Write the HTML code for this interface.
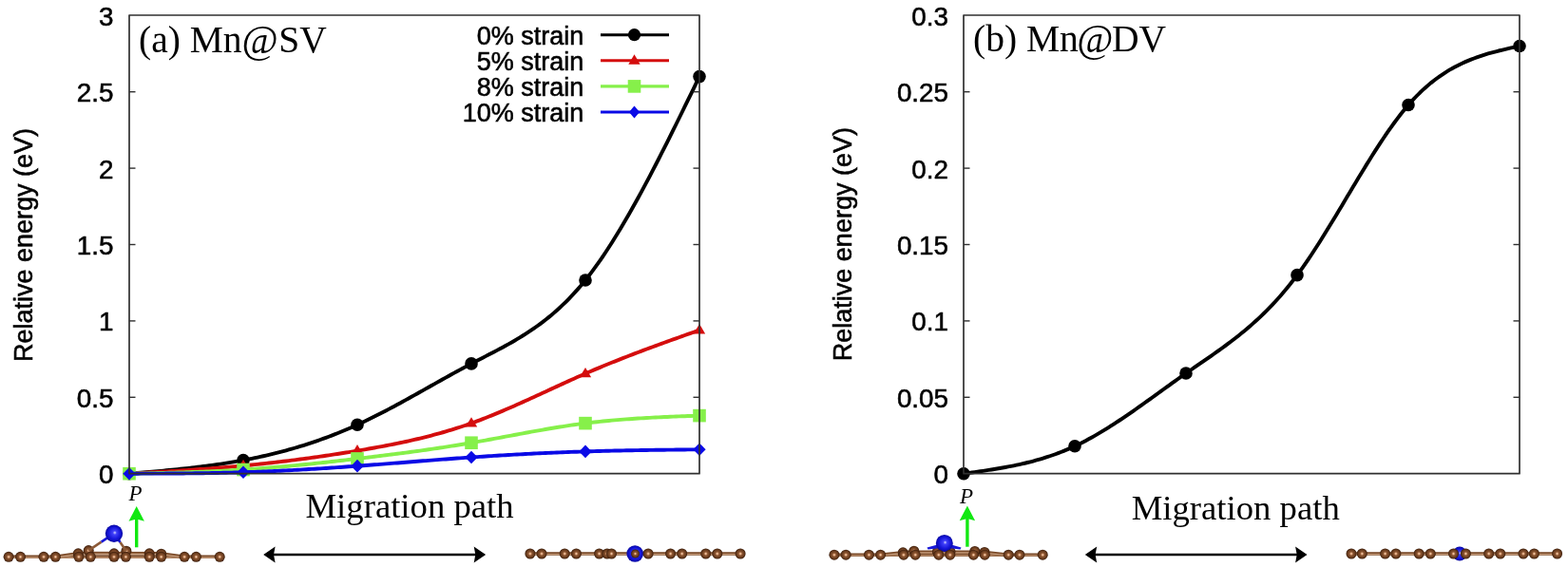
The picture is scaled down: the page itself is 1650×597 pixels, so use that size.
<!DOCTYPE html>
<html><head><meta charset="utf-8"><style>
html,body{margin:0;padding:0;background:#fff;overflow:hidden;width:1650px;height:597px;}
svg{display:block;}
</style></head><body>
<svg width="1650" height="597" viewBox="0 0 1650 597">
<rect width="1650" height="597" fill="#fff"/>
<text transform="translate(33.6,381) rotate(-90)" style="font-family:'Liberation Sans',Arial,sans-serif;stroke:#000;stroke-width:0.55px;font-size:27px">Relative energy (eV)</text>
<text transform="translate(895.6,380.2) rotate(-90)" style="font-family:'Liberation Sans',Arial,sans-serif;stroke:#000;stroke-width:0.55px;font-size:27px">Relative energy (eV)</text>
<text x="146" y="55.3" style="font-family:'Liberation Serif','Times New Roman',serif;font-size:39.5px">(a) <tspan dx="0">Mn</tspan><tspan dx="0" dy="0.8" style="font-size:41.5px">@</tspan><tspan dx="0.5" dy="-0.8">SV</tspan></text>
<text x="1024" y="54.3" style="font-family:'Liberation Serif','Times New Roman',serif;font-size:39.5px">(b) <tspan dx="0">Mn</tspan><tspan dx="-1.5" dy="0.8" style="font-size:41.5px">@</tspan><tspan dx="-1.5" dy="-0.8">DV</tspan></text>
<path d="M136.00,498.70 L139.00,498.45 L142.00,498.20 L145.00,497.95 L148.00,497.69 L151.00,497.44 L154.00,497.18 L157.00,496.92 L160.00,496.66 L163.00,496.39 L166.00,496.13 L169.00,495.85 L172.00,495.58 L175.00,495.30 L178.00,495.01 L181.00,494.72 L184.00,494.42 L187.00,494.12 L190.00,493.81 L193.00,493.49 L196.00,493.17 L199.00,492.84 L202.00,492.50 L205.00,492.15 L208.00,491.79 L211.00,491.42 L214.00,491.05 L217.00,490.66 L220.00,490.26 L223.00,489.86 L226.00,489.44 L229.00,489.01 L232.00,488.56 L235.00,488.11 L238.00,487.64 L241.00,487.16 L244.00,486.67 L247.00,486.16 L250.00,485.64 L253.00,485.10 L256.00,484.55 L259.00,483.98 L262.00,483.40 L265.00,482.80 L268.00,482.19 L271.00,481.55 L274.00,480.91 L277.00,480.24 L280.00,479.56 L283.00,478.86 L286.00,478.14 L289.00,477.41 L292.00,476.66 L295.00,475.88 L298.00,475.10 L301.00,474.29 L304.00,473.46 L307.00,472.61 L310.00,471.75 L313.00,470.86 L316.00,469.95 L319.00,469.03 L322.00,468.08 L325.00,467.11 L328.00,466.12 L331.00,465.11 L334.00,464.08 L337.00,463.03 L340.00,461.95 L343.00,460.85 L346.00,459.73 L349.00,458.59 L352.00,457.43 L355.00,456.24 L358.00,455.02 L361.00,453.79 L364.00,452.53 L367.00,451.24 L370.00,449.94 L373.00,448.60 L376.00,447.24 L379.00,445.86 L382.00,444.45 L385.00,443.02 L388.00,441.57 L391.00,440.10 L394.00,438.60 L397.00,437.09 L400.00,435.56 L403.00,434.01 L406.00,432.45 L409.00,430.87 L412.00,429.27 L415.00,427.67 L418.00,426.05 L421.00,424.42 L424.00,422.78 L427.00,421.13 L430.00,419.47 L433.00,417.80 L436.00,416.13 L439.00,414.45 L442.00,412.77 L445.00,411.09 L448.00,409.40 L451.00,407.71 L454.00,406.03 L457.00,404.34 L460.00,402.65 L463.00,400.97 L466.00,399.29 L469.00,397.62 L472.00,395.95 L475.00,394.29 L478.00,392.63 L481.00,390.99 L484.00,389.35 L487.00,387.73 L490.00,386.11 L493.00,384.51 L496.00,382.92 L499.00,381.35 L502.00,379.79 L505.00,378.23 L508.00,376.68 L511.00,375.14 L514.00,373.58 L517.00,372.03 L520.00,370.46 L523.00,368.88 L526.00,367.29 L529.00,365.67 L532.00,364.03 L535.00,362.37 L538.00,360.68 L541.00,358.95 L544.00,357.18 L547.00,355.38 L550.00,353.53 L553.00,351.64 L556.00,349.69 L559.00,347.70 L562.00,345.64 L565.00,343.52 L568.00,341.34 L571.00,339.10 L574.00,336.78 L577.00,334.39 L580.00,331.92 L583.00,329.36 L586.00,326.73 L589.00,324.00 L592.00,321.19 L595.00,318.28 L598.00,315.27 L601.00,312.16 L604.00,308.95 L607.00,305.62 L610.00,302.19 L613.00,298.64 L616.00,294.97 L619.08,291.08 L622.15,287.06 L625.23,282.93 L628.31,278.67 L631.38,274.30 L634.46,269.82 L637.54,265.23 L640.62,260.53 L643.69,255.73 L646.77,250.83 L649.85,245.84 L652.92,240.76 L656.00,235.58 L659.08,230.32 L662.15,224.98 L665.23,219.56 L668.31,214.06 L671.38,208.49 L674.46,202.85 L677.54,197.15 L680.62,191.38 L683.69,185.55 L686.77,179.67 L689.85,173.74 L692.92,167.75 L696.00,161.72 L699.08,155.65 L702.15,149.53 L705.23,143.38 L708.31,137.20 L711.38,130.99 L714.46,124.75 L717.54,118.49 L720.62,112.21 L723.69,105.91 L726.77,99.60 L729.85,93.28 L732.92,86.95 L736.00,80.62" fill="none" stroke="#000000" stroke-width="3.9" stroke-linejoin="round"/>
<circle cx="136.00" cy="498.70" r="6.8" fill="#000"/>
<circle cx="256.00" cy="484.55" r="6.8" fill="#000"/>
<circle cx="376.00" cy="447.24" r="6.8" fill="#000"/>
<circle cx="496.00" cy="382.92" r="6.8" fill="#000"/>
<circle cx="616.00" cy="294.97" r="6.8" fill="#000"/>
<circle cx="736.00" cy="80.62" r="6.8" fill="#000"/>
<path d="M136.00,498.70 L139.00,498.53 L142.00,498.36 L145.00,498.19 L148.00,498.01 L151.00,497.84 L154.00,497.67 L157.00,497.49 L160.00,497.32 L163.00,497.14 L166.00,496.96 L169.00,496.79 L172.00,496.60 L175.00,496.42 L178.00,496.24 L181.00,496.05 L184.00,495.86 L187.00,495.67 L190.00,495.48 L193.00,495.28 L196.00,495.09 L199.00,494.89 L202.00,494.68 L205.00,494.47 L208.00,494.26 L211.00,494.05 L214.00,493.83 L217.00,493.61 L220.00,493.39 L223.00,493.16 L226.00,492.93 L229.00,492.69 L232.00,492.45 L235.00,492.20 L238.00,491.95 L241.00,491.69 L244.00,491.43 L247.00,491.17 L250.00,490.90 L253.00,490.62 L256.00,490.34 L259.00,490.05 L262.00,489.76 L265.00,489.46 L268.00,489.15 L271.00,488.84 L274.00,488.53 L277.00,488.21 L280.00,487.88 L283.00,487.55 L286.00,487.21 L289.00,486.87 L292.00,486.52 L295.00,486.16 L298.00,485.80 L301.00,485.44 L304.00,485.07 L307.00,484.69 L310.00,484.31 L313.00,483.92 L316.00,483.53 L319.00,483.13 L322.00,482.73 L325.00,482.32 L328.00,481.91 L331.00,481.49 L334.00,481.07 L337.00,480.64 L340.00,480.20 L343.00,479.76 L346.00,479.32 L349.00,478.87 L352.00,478.41 L355.00,477.95 L358.00,477.48 L361.00,477.01 L364.00,476.54 L367.00,476.05 L370.00,475.57 L373.00,475.08 L376.00,474.58 L379.00,474.08 L382.00,473.57 L385.00,473.06 L388.00,472.54 L391.00,472.01 L394.00,471.48 L397.00,470.94 L400.00,470.39 L403.00,469.83 L406.00,469.26 L409.00,468.68 L412.00,468.09 L415.00,467.50 L418.00,466.89 L421.00,466.26 L424.00,465.63 L427.00,464.99 L430.00,464.33 L433.00,463.66 L436.00,462.97 L439.00,462.27 L442.00,461.56 L445.00,460.83 L448.00,460.08 L451.00,459.32 L454.00,458.54 L457.00,457.74 L460.00,456.93 L463.00,456.10 L466.00,455.25 L469.00,454.38 L472.00,453.49 L475.00,452.59 L478.00,451.66 L481.00,450.71 L484.00,449.74 L487.00,448.75 L490.00,447.73 L493.00,446.70 L496.00,445.64 L499.00,444.55 L502.00,443.45 L505.00,442.32 L508.00,441.17 L511.00,440.00 L514.00,438.81 L517.00,437.61 L520.00,436.38 L523.00,435.14 L526.00,433.89 L529.00,432.62 L532.00,431.33 L535.00,430.04 L538.00,428.73 L541.00,427.41 L544.00,426.08 L547.00,424.74 L550.00,423.39 L553.00,422.03 L556.00,420.67 L559.00,419.30 L562.00,417.93 L565.00,416.55 L568.00,415.17 L571.00,413.79 L574.00,412.40 L577.00,411.02 L580.00,409.64 L583.00,408.25 L586.00,406.87 L589.00,405.49 L592.00,404.12 L595.00,402.75 L598.00,401.39 L601.00,400.03 L604.00,398.68 L607.00,397.34 L610.00,396.01 L613.00,394.69 L616.00,393.38 L619.08,392.04 L622.15,390.72 L625.23,389.42 L628.31,388.12 L631.38,386.84 L634.46,385.56 L637.54,384.30 L640.62,383.04 L643.69,381.80 L646.77,380.57 L649.85,379.34 L652.92,378.13 L656.00,376.92 L659.08,375.72 L662.15,374.53 L665.23,373.35 L668.31,372.18 L671.38,371.01 L674.46,369.85 L677.54,368.69 L680.62,367.54 L683.69,366.40 L686.77,365.26 L689.85,364.13 L692.92,363.00 L696.00,361.88 L699.08,360.76 L702.15,359.65 L705.23,358.54 L708.31,357.43 L711.38,356.32 L714.46,355.22 L717.54,354.12 L720.62,353.02 L723.69,351.93 L726.77,350.83 L729.85,349.74 L732.92,348.64 L736.00,347.55" fill="none" stroke="#d40d0d" stroke-width="3.9" stroke-linejoin="round"/>
<path d="M136.00,492.20 L142.18,502.60 L129.82,502.60Z" fill="#d40d0d"/>
<path d="M256.00,483.84 L262.18,494.24 L249.82,494.24Z" fill="#d40d0d"/>
<path d="M376.00,468.08 L382.18,478.48 L369.82,478.48Z" fill="#d40d0d"/>
<path d="M496.00,439.14 L502.18,449.54 L489.82,449.54Z" fill="#d40d0d"/>
<path d="M616.00,386.88 L622.17,397.28 L609.83,397.28Z" fill="#d40d0d"/>
<path d="M736.00,341.05 L742.17,351.45 L729.83,351.45Z" fill="#d40d0d"/>
<path d="M136.00,498.70 L139.00,498.64 L142.00,498.58 L145.00,498.52 L148.00,498.45 L151.00,498.39 L154.00,498.33 L157.00,498.26 L160.00,498.20 L163.00,498.13 L166.00,498.06 L169.00,497.99 L172.00,497.92 L175.00,497.85 L178.00,497.77 L181.00,497.70 L184.00,497.61 L187.00,497.53 L190.00,497.45 L193.00,497.36 L196.00,497.26 L199.00,497.17 L202.00,497.07 L205.00,496.97 L208.00,496.86 L211.00,496.75 L214.00,496.64 L217.00,496.52 L220.00,496.40 L223.00,496.27 L226.00,496.14 L229.00,496.00 L232.00,495.86 L235.00,495.71 L238.00,495.56 L241.00,495.40 L244.00,495.24 L247.00,495.07 L250.00,494.89 L253.00,494.71 L256.00,494.52 L259.00,494.32 L262.00,494.12 L265.00,493.91 L268.00,493.70 L271.00,493.48 L274.00,493.25 L277.00,493.02 L280.00,492.79 L283.00,492.54 L286.00,492.29 L289.00,492.04 L292.00,491.78 L295.00,491.52 L298.00,491.25 L301.00,490.98 L304.00,490.70 L307.00,490.41 L310.00,490.13 L313.00,489.84 L316.00,489.54 L319.00,489.24 L322.00,488.94 L325.00,488.63 L328.00,488.32 L331.00,488.00 L334.00,487.68 L337.00,487.36 L340.00,487.04 L343.00,486.71 L346.00,486.38 L349.00,486.05 L352.00,485.71 L355.00,485.37 L358.00,485.03 L361.00,484.69 L364.00,484.34 L367.00,484.00 L370.00,483.65 L373.00,483.29 L376.00,482.94 L379.00,482.59 L382.00,482.23 L385.00,481.87 L388.00,481.51 L391.00,481.15 L394.00,480.79 L397.00,480.42 L400.00,480.05 L403.00,479.68 L406.00,479.31 L409.00,478.93 L412.00,478.55 L415.00,478.17 L418.00,477.78 L421.00,477.39 L424.00,477.00 L427.00,476.60 L430.00,476.20 L433.00,475.80 L436.00,475.39 L439.00,474.98 L442.00,474.56 L445.00,474.14 L448.00,473.72 L451.00,473.29 L454.00,472.86 L457.00,472.42 L460.00,471.97 L463.00,471.53 L466.00,471.07 L469.00,470.61 L472.00,470.15 L475.00,469.68 L478.00,469.20 L481.00,468.72 L484.00,468.23 L487.00,467.74 L490.00,467.24 L493.00,466.73 L496.00,466.22 L499.00,465.70 L502.00,465.17 L505.00,464.64 L508.00,464.11 L511.00,463.57 L514.00,463.02 L517.00,462.47 L520.00,461.92 L523.00,461.37 L526.00,460.81 L529.00,460.25 L532.00,459.69 L535.00,459.14 L538.00,458.58 L541.00,458.02 L544.00,457.46 L547.00,456.90 L550.00,456.35 L553.00,455.79 L556.00,455.25 L559.00,454.70 L562.00,454.16 L565.00,453.62 L568.00,453.09 L571.00,452.56 L574.00,452.04 L577.00,451.52 L580.00,451.01 L583.00,450.51 L586.00,450.02 L589.00,449.54 L592.00,449.06 L595.00,448.59 L598.00,448.14 L601.00,447.69 L604.00,447.26 L607.00,446.83 L610.00,446.42 L613.00,446.02 L616.00,445.64 L619.08,445.25 L622.15,444.88 L625.23,444.53 L628.31,444.19 L631.38,443.86 L634.46,443.54 L637.54,443.23 L640.62,442.94 L643.69,442.66 L646.77,442.39 L649.85,442.12 L652.92,441.87 L656.00,441.63 L659.08,441.40 L662.15,441.18 L665.23,440.96 L668.31,440.76 L671.38,440.56 L674.46,440.37 L677.54,440.18 L680.62,440.01 L683.69,439.84 L686.77,439.67 L689.85,439.52 L692.92,439.36 L696.00,439.22 L699.08,439.07 L702.15,438.94 L705.23,438.80 L708.31,438.67 L711.38,438.54 L714.46,438.42 L717.54,438.30 L720.62,438.18 L723.69,438.06 L726.77,437.94 L729.85,437.83 L732.92,437.71 L736.00,437.60" fill="none" stroke="#86f04a" stroke-width="3.9" stroke-linejoin="round"/>
<rect x="129.20" y="491.90" width="13.6" height="13.6" fill="#86f04a"/>
<rect x="249.20" y="487.72" width="13.6" height="13.6" fill="#86f04a"/>
<rect x="369.20" y="476.14" width="13.6" height="13.6" fill="#86f04a"/>
<rect x="489.20" y="459.42" width="13.6" height="13.6" fill="#86f04a"/>
<rect x="609.20" y="438.84" width="13.6" height="13.6" fill="#86f04a"/>
<rect x="729.20" y="430.80" width="13.6" height="13.6" fill="#86f04a"/>
<path d="M136.00,498.70 L139.00,498.69 L142.00,498.69 L145.00,498.68 L148.00,498.67 L151.00,498.66 L154.00,498.65 L157.00,498.64 L160.00,498.63 L163.00,498.62 L166.00,498.61 L169.00,498.60 L172.00,498.58 L175.00,498.57 L178.00,498.55 L181.00,498.53 L184.00,498.51 L187.00,498.49 L190.00,498.46 L193.00,498.44 L196.00,498.41 L199.00,498.38 L202.00,498.35 L205.00,498.31 L208.00,498.28 L211.00,498.24 L214.00,498.19 L217.00,498.15 L220.00,498.10 L223.00,498.05 L226.00,497.99 L229.00,497.94 L232.00,497.87 L235.00,497.81 L238.00,497.74 L241.00,497.67 L244.00,497.59 L247.00,497.52 L250.00,497.43 L253.00,497.34 L256.00,497.25 L259.00,497.16 L262.00,497.06 L265.00,496.95 L268.00,496.84 L271.00,496.73 L274.00,496.61 L277.00,496.49 L280.00,496.37 L283.00,496.24 L286.00,496.11 L289.00,495.97 L292.00,495.83 L295.00,495.69 L298.00,495.54 L301.00,495.39 L304.00,495.24 L307.00,495.08 L310.00,494.92 L313.00,494.75 L316.00,494.59 L319.00,494.42 L322.00,494.24 L325.00,494.07 L328.00,493.89 L331.00,493.70 L334.00,493.52 L337.00,493.33 L340.00,493.14 L343.00,492.95 L346.00,492.75 L349.00,492.55 L352.00,492.35 L355.00,492.15 L358.00,491.94 L361.00,491.73 L364.00,491.52 L367.00,491.31 L370.00,491.10 L373.00,490.88 L376.00,490.66 L379.00,490.44 L382.00,490.22 L385.00,489.99 L388.00,489.77 L391.00,489.54 L394.00,489.31 L397.00,489.08 L400.00,488.85 L403.00,488.61 L406.00,488.38 L409.00,488.15 L412.00,487.91 L415.00,487.67 L418.00,487.44 L421.00,487.20 L424.00,486.96 L427.00,486.73 L430.00,486.49 L433.00,486.25 L436.00,486.02 L439.00,485.78 L442.00,485.54 L445.00,485.31 L448.00,485.07 L451.00,484.84 L454.00,484.61 L457.00,484.37 L460.00,484.14 L463.00,483.91 L466.00,483.68 L469.00,483.46 L472.00,483.23 L475.00,483.01 L478.00,482.78 L481.00,482.56 L484.00,482.35 L487.00,482.13 L490.00,481.92 L493.00,481.70 L496.00,481.49 L499.00,481.29 L502.00,481.08 L505.00,480.88 L508.00,480.68 L511.00,480.49 L514.00,480.29 L517.00,480.10 L520.00,479.91 L523.00,479.73 L526.00,479.55 L529.00,479.37 L532.00,479.19 L535.00,479.01 L538.00,478.84 L541.00,478.67 L544.00,478.51 L547.00,478.34 L550.00,478.18 L553.00,478.02 L556.00,477.87 L559.00,477.72 L562.00,477.57 L565.00,477.42 L568.00,477.28 L571.00,477.14 L574.00,477.00 L577.00,476.86 L580.00,476.73 L583.00,476.60 L586.00,476.48 L589.00,476.35 L592.00,476.23 L595.00,476.12 L598.00,476.00 L601.00,475.89 L604.00,475.78 L607.00,475.68 L610.00,475.58 L613.00,475.48 L616.00,475.38 L619.08,475.29 L622.15,475.20 L625.23,475.11 L628.31,475.02 L631.38,474.94 L634.46,474.86 L637.54,474.79 L640.62,474.71 L643.69,474.64 L646.77,474.57 L649.85,474.50 L652.92,474.44 L656.00,474.38 L659.08,474.32 L662.15,474.26 L665.23,474.21 L668.31,474.15 L671.38,474.10 L674.46,474.05 L677.54,474.00 L680.62,473.96 L683.69,473.91 L686.77,473.87 L689.85,473.82 L692.92,473.78 L696.00,473.74 L699.08,473.70 L702.15,473.67 L705.23,473.63 L708.31,473.59 L711.38,473.56 L714.46,473.52 L717.54,473.49 L720.62,473.46 L723.69,473.42 L726.77,473.39 L729.85,473.36 L732.92,473.33 L736.00,473.29" fill="none" stroke="#0a0ae6" stroke-width="3.9" stroke-linejoin="round"/>
<path d="M136.00,491.90 L142.60,498.70 L136.00,505.50 L129.40,498.70Z" fill="#0a0ae6"/>
<path d="M256.00,490.45 L262.60,497.25 L256.00,504.05 L249.40,497.25Z" fill="#0a0ae6"/>
<path d="M376.00,483.86 L382.60,490.66 L376.00,497.46 L369.40,490.66Z" fill="#0a0ae6"/>
<path d="M496.00,474.69 L502.60,481.49 L496.00,488.29 L489.40,481.49Z" fill="#0a0ae6"/>
<path d="M616.00,468.58 L622.60,475.38 L616.00,482.18 L609.40,475.38Z" fill="#0a0ae6"/>
<path d="M736.00,466.49 L742.60,473.29 L736.00,480.09 L729.40,473.29Z" fill="#0a0ae6"/>
<text x="614.3" y="46.90" text-anchor="end" style="font-family:'Liberation Sans',Arial,sans-serif;stroke:#000;stroke-width:0.55px;font-size:27px">0% strain</text>
<line x1="632" y1="36.70" x2="704" y2="36.70" stroke="#000000" stroke-width="3.1"/>
<circle cx="667.50" cy="36.70" r="6.6" fill="#000000"/>
<text x="614.3" y="74.00" text-anchor="end" style="font-family:'Liberation Sans',Arial,sans-serif;stroke:#000;stroke-width:0.55px;font-size:27px">5% strain</text>
<line x1="632" y1="63.80" x2="704" y2="63.80" stroke="#d40d0d" stroke-width="3.1"/>
<path d="M667.50,57.30 L673.67,67.70 L661.33,67.70Z" fill="#d40d0d"/>
<text x="614.3" y="101.10" text-anchor="end" style="font-family:'Liberation Sans',Arial,sans-serif;stroke:#000;stroke-width:0.55px;font-size:27px">8% strain</text>
<line x1="632" y1="90.90" x2="704" y2="90.90" stroke="#86f04a" stroke-width="3.1"/>
<rect x="660.70" y="84.10" width="13.6" height="13.6" fill="#86f04a"/>
<text x="614.3" y="128.20" text-anchor="end" style="font-family:'Liberation Sans',Arial,sans-serif;stroke:#000;stroke-width:0.55px;font-size:27px">10% strain</text>
<line x1="632" y1="118.00" x2="704" y2="118.00" stroke="#0a0ae6" stroke-width="3.1"/>
<path d="M667.50,111.40 L673.10,118.00 L667.50,124.60 L661.90,118.00Z" fill="#0a0ae6"/>
<path d="M1014.00,498.70 L1016.92,498.30 L1019.85,497.90 L1022.77,497.49 L1025.70,497.08 L1028.62,496.67 L1031.55,496.25 L1034.47,495.82 L1037.40,495.39 L1040.33,494.94 L1043.25,494.49 L1046.17,494.02 L1049.10,493.54 L1052.03,493.04 L1054.95,492.53 L1057.88,492.00 L1060.80,491.45 L1063.72,490.89 L1066.65,490.30 L1069.58,489.69 L1072.50,489.06 L1075.42,488.41 L1078.35,487.73 L1081.28,487.02 L1084.20,486.28 L1087.12,485.52 L1090.05,484.73 L1092.97,483.90 L1095.90,483.04 L1098.83,482.15 L1101.75,481.22 L1104.67,480.26 L1107.60,479.26 L1110.53,478.22 L1113.45,477.14 L1116.38,476.02 L1119.30,474.85 L1122.22,473.65 L1125.15,472.40 L1128.08,471.10 L1131.00,469.76 L1133.92,468.36 L1136.85,466.93 L1139.78,465.44 L1142.70,463.91 L1145.62,462.34 L1148.55,460.73 L1151.47,459.08 L1154.40,457.40 L1157.33,455.68 L1160.25,453.92 L1163.17,452.13 L1166.10,450.31 L1169.03,448.46 L1171.95,446.58 L1174.88,444.68 L1177.80,442.75 L1180.72,440.79 L1183.65,438.82 L1186.58,436.83 L1189.50,434.81 L1192.42,432.78 L1195.35,430.74 L1198.28,428.68 L1201.20,426.61 L1204.12,424.52 L1207.05,422.43 L1209.97,420.33 L1212.90,418.23 L1215.83,416.12 L1218.75,414.00 L1221.67,411.89 L1224.60,409.77 L1227.53,407.66 L1230.45,405.55 L1233.38,403.45 L1236.30,401.35 L1239.22,399.26 L1242.15,397.18 L1245.08,395.11 L1248.00,393.05 L1250.92,391.01 L1253.85,388.98 L1256.78,386.96 L1259.70,384.94 L1262.62,382.92 L1265.55,380.90 L1268.47,378.88 L1271.40,376.85 L1274.33,374.81 L1277.25,372.76 L1280.17,370.69 L1283.10,368.60 L1286.03,366.49 L1288.95,364.35 L1291.88,362.18 L1294.80,359.99 L1297.72,357.75 L1300.65,355.48 L1303.58,353.17 L1306.50,350.81 L1309.42,348.41 L1312.35,345.95 L1315.28,343.45 L1318.20,340.88 L1321.12,338.26 L1324.05,335.57 L1326.97,332.82 L1329.90,330.00 L1332.83,327.11 L1335.75,324.14 L1338.67,321.09 L1341.60,317.96 L1344.53,314.75 L1347.45,311.46 L1350.38,308.07 L1353.30,304.58 L1356.22,301.01 L1359.15,297.33 L1362.08,293.55 L1365.00,289.66 L1367.92,285.67 L1370.85,281.57 L1373.78,277.38 L1376.70,273.09 L1379.62,268.73 L1382.55,264.28 L1385.47,259.76 L1388.40,255.18 L1391.33,250.54 L1394.25,245.84 L1397.17,241.09 L1400.10,236.31 L1403.03,231.49 L1405.95,226.64 L1408.88,221.77 L1411.80,216.88 L1414.72,211.98 L1417.65,207.08 L1420.58,202.17 L1423.50,197.28 L1426.42,192.40 L1429.35,187.54 L1432.28,182.71 L1435.20,177.91 L1438.12,173.14 L1441.05,168.43 L1443.97,163.76 L1446.90,159.15 L1449.83,154.61 L1452.75,150.13 L1455.67,145.73 L1458.60,141.41 L1461.53,137.18 L1464.45,133.04 L1467.38,129.00 L1470.30,125.07 L1473.22,121.25 L1476.15,117.55 L1479.08,113.97 L1482.00,110.53 L1485.00,107.14 L1488.00,103.88 L1491.00,100.77 L1494.00,97.78 L1497.00,94.93 L1500.00,92.20 L1503.00,89.60 L1506.00,87.11 L1509.00,84.74 L1512.00,82.47 L1515.00,80.32 L1518.00,78.27 L1521.00,76.31 L1524.00,74.46 L1527.00,72.69 L1530.00,71.02 L1533.00,69.43 L1536.00,67.92 L1539.00,66.49 L1542.00,65.13 L1545.00,63.84 L1548.00,62.62 L1551.00,61.46 L1554.00,60.36 L1557.00,59.32 L1560.00,58.33 L1563.00,57.39 L1566.00,56.49 L1569.00,55.63 L1572.00,54.80 L1575.00,54.02 L1578.00,53.26 L1581.00,52.52 L1584.00,51.81 L1587.00,51.12 L1590.00,50.44 L1593.00,49.78 L1596.00,49.12 L1599.00,48.46" fill="none" stroke="#000000" stroke-width="3.9" stroke-linejoin="round"/>
<circle cx="1014.00" cy="498.70" r="6.8" fill="#000"/>
<circle cx="1131.00" cy="469.76" r="6.8" fill="#000"/>
<circle cx="1248.00" cy="393.05" r="6.8" fill="#000"/>
<circle cx="1365.00" cy="289.66" r="6.8" fill="#000"/>
<circle cx="1482.00" cy="110.53" r="6.8" fill="#000"/>
<circle cx="1599.00" cy="48.46" r="6.8" fill="#000"/>
<rect x="136.0" y="16.0" width="600.0" height="482.7" fill="none" stroke="#303030" stroke-width="1.7" stroke-linejoin="round"/>
<text x="119.5" y="509.10" text-anchor="end" style="font-family:'Liberation Sans',Arial,sans-serif;stroke:#000;stroke-width:0.55px;font-size:27.8px">0</text>
<line x1="136.0" y1="418.30" x2="142.5" y2="418.30" stroke="#303030" stroke-width="1.4"/>
<line x1="736.0" y1="418.30" x2="729.5" y2="418.30" stroke="#303030" stroke-width="1.4"/>
<text x="119.5" y="428.70" text-anchor="end" style="font-family:'Liberation Sans',Arial,sans-serif;stroke:#000;stroke-width:0.55px;font-size:27.8px">0.5</text>
<line x1="136.0" y1="337.90" x2="142.5" y2="337.90" stroke="#303030" stroke-width="1.4"/>
<line x1="736.0" y1="337.90" x2="729.5" y2="337.90" stroke="#303030" stroke-width="1.4"/>
<text x="119.5" y="348.30" text-anchor="end" style="font-family:'Liberation Sans',Arial,sans-serif;stroke:#000;stroke-width:0.55px;font-size:27.8px">1</text>
<line x1="136.0" y1="257.50" x2="142.5" y2="257.50" stroke="#303030" stroke-width="1.4"/>
<line x1="736.0" y1="257.50" x2="729.5" y2="257.50" stroke="#303030" stroke-width="1.4"/>
<text x="119.5" y="267.90" text-anchor="end" style="font-family:'Liberation Sans',Arial,sans-serif;stroke:#000;stroke-width:0.55px;font-size:27.8px">1.5</text>
<line x1="136.0" y1="177.10" x2="142.5" y2="177.10" stroke="#303030" stroke-width="1.4"/>
<line x1="736.0" y1="177.10" x2="729.5" y2="177.10" stroke="#303030" stroke-width="1.4"/>
<text x="119.5" y="187.50" text-anchor="end" style="font-family:'Liberation Sans',Arial,sans-serif;stroke:#000;stroke-width:0.55px;font-size:27.8px">2</text>
<line x1="136.0" y1="96.70" x2="142.5" y2="96.70" stroke="#303030" stroke-width="1.4"/>
<line x1="736.0" y1="96.70" x2="729.5" y2="96.70" stroke="#303030" stroke-width="1.4"/>
<text x="119.5" y="107.10" text-anchor="end" style="font-family:'Liberation Sans',Arial,sans-serif;stroke:#000;stroke-width:0.55px;font-size:27.8px">2.5</text>
<text x="119.5" y="26.70" text-anchor="end" style="font-family:'Liberation Sans',Arial,sans-serif;stroke:#000;stroke-width:0.55px;font-size:27.8px">3</text>
<rect x="1014.0" y="16.0" width="585.0" height="482.7" fill="none" stroke="#303030" stroke-width="1.7" stroke-linejoin="round"/>
<text x="998" y="509.10" text-anchor="end" style="font-family:'Liberation Sans',Arial,sans-serif;stroke:#000;stroke-width:0.55px;font-size:27.8px">0</text>
<line x1="1014.0" y1="418.30" x2="1020.5" y2="418.30" stroke="#303030" stroke-width="1.4"/>
<line x1="1599.0" y1="418.30" x2="1592.5" y2="418.30" stroke="#303030" stroke-width="1.4"/>
<text x="998" y="428.70" text-anchor="end" style="font-family:'Liberation Sans',Arial,sans-serif;stroke:#000;stroke-width:0.55px;font-size:27.8px">0.05</text>
<line x1="1014.0" y1="337.90" x2="1020.5" y2="337.90" stroke="#303030" stroke-width="1.4"/>
<line x1="1599.0" y1="337.90" x2="1592.5" y2="337.90" stroke="#303030" stroke-width="1.4"/>
<text x="998" y="348.30" text-anchor="end" style="font-family:'Liberation Sans',Arial,sans-serif;stroke:#000;stroke-width:0.55px;font-size:27.8px">0.1</text>
<line x1="1014.0" y1="257.50" x2="1020.5" y2="257.50" stroke="#303030" stroke-width="1.4"/>
<line x1="1599.0" y1="257.50" x2="1592.5" y2="257.50" stroke="#303030" stroke-width="1.4"/>
<text x="998" y="267.90" text-anchor="end" style="font-family:'Liberation Sans',Arial,sans-serif;stroke:#000;stroke-width:0.55px;font-size:27.8px">0.15</text>
<line x1="1014.0" y1="177.10" x2="1020.5" y2="177.10" stroke="#303030" stroke-width="1.4"/>
<line x1="1599.0" y1="177.10" x2="1592.5" y2="177.10" stroke="#303030" stroke-width="1.4"/>
<text x="998" y="187.50" text-anchor="end" style="font-family:'Liberation Sans',Arial,sans-serif;stroke:#000;stroke-width:0.55px;font-size:27.8px">0.2</text>
<line x1="1014.0" y1="96.70" x2="1020.5" y2="96.70" stroke="#303030" stroke-width="1.4"/>
<line x1="1599.0" y1="96.70" x2="1592.5" y2="96.70" stroke="#303030" stroke-width="1.4"/>
<text x="998" y="107.10" text-anchor="end" style="font-family:'Liberation Sans',Arial,sans-serif;stroke:#000;stroke-width:0.55px;font-size:27.8px">0.25</text>
<text x="998" y="26.70" text-anchor="end" style="font-family:'Liberation Sans',Arial,sans-serif;stroke:#000;stroke-width:0.55px;font-size:27.8px">0.3</text>
<text x="321.5" y="544.8" style="font-family:'Liberation Serif','Times New Roman',serif;font-size:36.7px">Migration path</text>
<text x="1190.7" y="546.5" style="font-family:'Liberation Serif','Times New Roman',serif;font-size:36.7px">Migration path</text>
<defs><radialGradient id="cg" cx="0.5" cy="0.5" r="0.5" fx="0.5" fy="0.5"><stop offset="0" stop-color="#ffeedd"/><stop offset="0.14" stop-color="#e0a880"/><stop offset="0.36" stop-color="#8c5632"/><stop offset="0.72" stop-color="#6a3c1e"/><stop offset="1" stop-color="#3a1c0a"/></radialGradient><radialGradient id="mg" cx="0.5" cy="0.5" r="0.5" fx="0.55" fy="0.45"><stop offset="0" stop-color="#d8d8ff"/><stop offset="0.22" stop-color="#4040f8"/><stop offset="0.7" stop-color="#1414d8"/><stop offset="1" stop-color="#0a0aa0"/></radialGradient></defs>
<line x1="9.1" y1="586.3" x2="231.2" y2="586.3" stroke="#7a4a28" stroke-width="3.5" stroke-linecap="round"/>
<line x1="9.1" y1="587.0" x2="231.2" y2="587.0" stroke="#c49a78" stroke-width="1.3"/>
<line x1="58.4" y1="586.3" x2="82.3" y2="582.8" stroke="#7a4a28" stroke-width="3.5" stroke-linecap="round"/>
<line x1="58.4" y1="587.0" x2="82.3" y2="583.5" stroke="#c49a78" stroke-width="1.3"/>
<line x1="82.3" y1="582.5" x2="169.7" y2="582.8" stroke="#7a4a28" stroke-width="3.5" stroke-linecap="round"/>
<line x1="82.3" y1="583.2" x2="169.7" y2="583.5" stroke="#c49a78" stroke-width="1.3"/>
<line x1="169.7" y1="583.0" x2="194.1" y2="586.3" stroke="#7a4a28" stroke-width="3.5" stroke-linecap="round"/>
<line x1="169.7" y1="583.7" x2="194.1" y2="587.0" stroke="#c49a78" stroke-width="1.3"/>
<circle cx="82.3" cy="582.8" r="5.5" fill="url(#cg)"/>
<circle cx="93.2" cy="579.6" r="5.5" fill="url(#cg)"/>
<circle cx="120.0" cy="582.8" r="5.5" fill="url(#cg)"/>
<circle cx="132.9" cy="580.2" r="5.5" fill="url(#cg)"/>
<circle cx="157.2" cy="582.8" r="5.5" fill="url(#cg)"/>
<circle cx="169.7" cy="583.2" r="5.5" fill="url(#cg)"/>
<line x1="120.0" y1="561.7" x2="106.6" y2="570.7" stroke="#1818d8" stroke-width="2.6"/>
<line x1="106.6" y1="570.7" x2="93.2" y2="579.6" stroke="#8c5a38" stroke-width="2.6"/>
<line x1="120.0" y1="561.7" x2="126.5" y2="571.0" stroke="#1818d8" stroke-width="2.6"/>
<line x1="126.5" y1="571.0" x2="132.9" y2="580.2" stroke="#8c5a38" stroke-width="2.6"/>
<circle cx="120.0" cy="561.7" r="9.2" fill="url(#mg)"/>
<circle cx="9.1" cy="586.3" r="5.5" fill="url(#cg)"/>
<circle cx="21.5" cy="586.3" r="5.5" fill="url(#cg)"/>
<circle cx="46.0" cy="586.3" r="5.5" fill="url(#cg)"/>
<circle cx="58.4" cy="586.3" r="5.5" fill="url(#cg)"/>
<circle cx="82.9" cy="586.3" r="5.5" fill="url(#cg)"/>
<circle cx="95.3" cy="586.3" r="5.5" fill="url(#cg)"/>
<circle cx="120.0" cy="586.3" r="5.5" fill="url(#cg)"/>
<circle cx="132.4" cy="586.3" r="5.5" fill="url(#cg)"/>
<circle cx="157.2" cy="586.3" r="5.5" fill="url(#cg)"/>
<circle cx="169.7" cy="586.3" r="5.5" fill="url(#cg)"/>
<circle cx="194.1" cy="586.3" r="5.5" fill="url(#cg)"/>
<circle cx="206.4" cy="586.3" r="5.5" fill="url(#cg)"/>
<circle cx="231.2" cy="586.3" r="5.5" fill="url(#cg)"/>
<line x1="557.9" y1="583.0" x2="779.1" y2="583.0" stroke="#7a4a28" stroke-width="3.5" stroke-linecap="round"/>
<line x1="557.9" y1="583.7" x2="779.1" y2="583.7" stroke="#c49a78" stroke-width="1.3"/>
<circle cx="668.2" cy="583.0" r="8.8" fill="url(#mg)"/>
<circle cx="557.9" cy="583.0" r="5.5" fill="url(#cg)"/>
<circle cx="570.0" cy="583.0" r="5.5" fill="url(#cg)"/>
<circle cx="594.2" cy="583.0" r="5.5" fill="url(#cg)"/>
<circle cx="606.4" cy="583.0" r="5.5" fill="url(#cg)"/>
<circle cx="630.6" cy="583.0" r="5.5" fill="url(#cg)"/>
<circle cx="638.9" cy="583.0" r="5.5" fill="url(#cg)"/>
<circle cx="643.5" cy="583.0" r="5.5" fill="url(#cg)"/>
<circle cx="668.5" cy="583.0" r="4.5" fill="url(#cg)"/>
<circle cx="682.1" cy="583.0" r="5.5" fill="url(#cg)"/>
<circle cx="705.6" cy="583.0" r="5.5" fill="url(#cg)"/>
<circle cx="717.7" cy="583.0" r="5.5" fill="url(#cg)"/>
<circle cx="742.7" cy="583.0" r="5.5" fill="url(#cg)"/>
<circle cx="754.8" cy="583.0" r="5.5" fill="url(#cg)"/>
<circle cx="779.1" cy="583.0" r="5.5" fill="url(#cg)"/>
<line x1="877.9" y1="584.2" x2="1097.2" y2="584.2" stroke="#7a4a28" stroke-width="3.5" stroke-linecap="round"/>
<line x1="877.9" y1="584.9" x2="1097.2" y2="584.9" stroke="#c49a78" stroke-width="1.3"/>
<line x1="926.6" y1="584.2" x2="950.2" y2="581.8" stroke="#7a4a28" stroke-width="3.5" stroke-linecap="round"/>
<line x1="926.6" y1="584.9" x2="950.2" y2="582.5" stroke="#c49a78" stroke-width="1.3"/>
<line x1="950.2" y1="581.3" x2="1036.0" y2="581.3" stroke="#7a4a28" stroke-width="3.5" stroke-linecap="round"/>
<line x1="950.2" y1="582.0" x2="1036.0" y2="582.0" stroke="#c49a78" stroke-width="1.3"/>
<line x1="1036.0" y1="581.5" x2="1061.2" y2="584.2" stroke="#7a4a28" stroke-width="3.5" stroke-linecap="round"/>
<line x1="1036.0" y1="582.2" x2="1061.2" y2="584.9" stroke="#c49a78" stroke-width="1.3"/>
<circle cx="950.2" cy="581.8" r="5.5" fill="url(#cg)"/>
<circle cx="961.8" cy="580.2" r="5.5" fill="url(#cg)"/>
<circle cx="986.4" cy="580.8" r="5.5" fill="url(#cg)"/>
<circle cx="1000.0" cy="581.0" r="5.5" fill="url(#cg)"/>
<circle cx="1025.8" cy="580.4" r="5.5" fill="url(#cg)"/>
<circle cx="1036.0" cy="581.5" r="5.5" fill="url(#cg)"/>
<path d="M990,572.5 L975.5,576.6 L976.5,578.6 L990,577 Z" fill="#1818d8"/>
<path d="M997.5,572.5 L1011.5,576.6 L1010.5,578.6 L997.5,577 Z" fill="#1818d8"/>
<circle cx="993.8" cy="571.9" r="9.0" fill="url(#mg)"/>
<circle cx="877.9" cy="584.2" r="5.5" fill="url(#cg)"/>
<circle cx="890.1" cy="584.2" r="5.5" fill="url(#cg)"/>
<circle cx="914.4" cy="584.2" r="5.5" fill="url(#cg)"/>
<circle cx="926.6" cy="584.2" r="5.5" fill="url(#cg)"/>
<circle cx="950.9" cy="584.2" r="5.5" fill="url(#cg)"/>
<circle cx="963.2" cy="584.2" r="5.5" fill="url(#cg)"/>
<circle cx="987.8" cy="584.2" r="5.5" fill="url(#cg)"/>
<circle cx="999.8" cy="584.2" r="5.5" fill="url(#cg)"/>
<circle cx="1024.4" cy="584.2" r="5.5" fill="url(#cg)"/>
<circle cx="1036.3" cy="584.2" r="5.5" fill="url(#cg)"/>
<circle cx="1061.2" cy="584.2" r="5.5" fill="url(#cg)"/>
<circle cx="1072.9" cy="584.2" r="5.5" fill="url(#cg)"/>
<circle cx="1097.2" cy="584.2" r="5.5" fill="url(#cg)"/>
<line x1="1422.0" y1="583.0" x2="1638.6" y2="583.0" stroke="#7a4a28" stroke-width="3.5" stroke-linecap="round"/>
<line x1="1422.0" y1="583.7" x2="1638.6" y2="583.7" stroke="#c49a78" stroke-width="1.3"/>
<circle cx="1536.0" cy="583.0" r="7.4" fill="url(#mg)"/>
<circle cx="1422.0" cy="583.0" r="5.5" fill="url(#cg)"/>
<circle cx="1433.3" cy="583.0" r="5.5" fill="url(#cg)"/>
<circle cx="1457.6" cy="583.0" r="5.5" fill="url(#cg)"/>
<circle cx="1468.9" cy="583.0" r="5.5" fill="url(#cg)"/>
<circle cx="1493.2" cy="583.0" r="5.5" fill="url(#cg)"/>
<circle cx="1505.3" cy="583.0" r="5.5" fill="url(#cg)"/>
<circle cx="1529.5" cy="583.0" r="5.5" fill="url(#cg)"/>
<circle cx="1542.4" cy="583.0" r="5.5" fill="url(#cg)"/>
<circle cx="1566.7" cy="583.0" r="5.5" fill="url(#cg)"/>
<circle cx="1578.8" cy="583.0" r="5.5" fill="url(#cg)"/>
<circle cx="1603.0" cy="583.0" r="5.5" fill="url(#cg)"/>
<circle cx="1614.4" cy="583.0" r="5.5" fill="url(#cg)"/>
<circle cx="1638.6" cy="583.0" r="5.5" fill="url(#cg)"/>
<line x1="143.7" y1="576.3" x2="143.7" y2="545" stroke="#12e812" stroke-width="3.4"/>
<path d="M143.7,533 L151.89999999999998,548.8 L143.7,546.5 L135.5,548.8Z" fill="#12e812"/>
<line x1="1017.9" y1="575.7" x2="1017.9" y2="544.5" stroke="#12e812" stroke-width="3.4"/>
<path d="M1017.9,532.5 L1026.1,548.3 L1017.9,546.0 L1009.6999999999999,548.3Z" fill="#12e812"/>
<text x="135.5" y="527.2" style="font-family:'Liberation Serif','Times New Roman',serif;font-style:italic;font-size:23px">P</text>
<text x="1010" y="530.1" style="font-family:'Liberation Serif','Times New Roman',serif;font-style:italic;font-size:23px">P</text>
<line x1="285.2" y1="584" x2="503.1" y2="584" stroke="#000" stroke-width="2.5"/>
<path d="M277.2,584 L289.59999999999997,575.5 L288.0,584 L289.59999999999997,592.5Z" fill="#000"/>
<path d="M511.1,584 L498.70000000000005,575.5 L500.3,584 L498.70000000000005,592.5Z" fill="#000"/>
<line x1="1149.8" y1="584.1" x2="1367.5" y2="584.1" stroke="#000" stroke-width="2.5"/>
<path d="M1141.8,584.1 L1154.2,575.6 L1152.6,584.1 L1154.2,592.6Z" fill="#000"/>
<path d="M1375.5,584.1 L1363.1,575.6 L1364.7,584.1 L1363.1,592.6Z" fill="#000"/>
</svg>
</body></html>
